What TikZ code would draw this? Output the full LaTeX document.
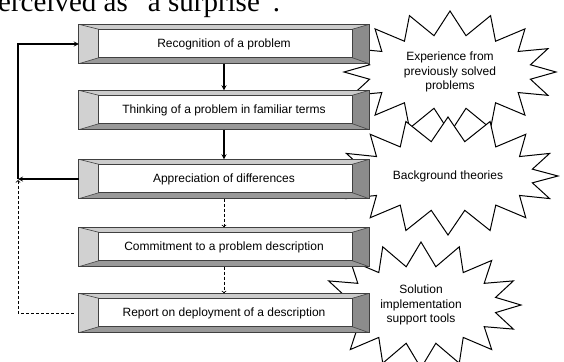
\documentclass[tikz,border=0pt]{standalone}
\usepackage{fontspec}
\setmainfont{Liberation Serif}
\setsansfont{Liberation Sans}
\usetikzlibrary{shapes.symbols}

\definecolor{bevlight}{gray}{0.82}
\definecolor{bevtop}{gray}{0.8}
\definecolor{bevbottom}{gray}{0.6}
\definecolor{bevdark}{gray}{0.55}
\definecolor{edge}{gray}{0.25}

\tikzset{
  stage/.style={fill=white, minimum width=290pt, minimum height=39pt, inner sep=0pt,
    font=\sffamily\fontsize{12}{14}\selectfont},
  burst/.style={starburst, draw, fill=white, line width=1pt, starburst points=16,
    starburst point height=24pt, random starburst=0, align=center, inner sep=0pt,
    font=\sffamily\fontsize{12}{14.5}\selectfont},
  flow/.style={->, >=stealth, line width=1.2pt},
  weak/.style={->, dash pattern=on 3pt off 2pt, line width=0.8pt}
}

\begin{document}
\begin{tikzpicture}[x=1pt,y=-1pt]
        \useasboundingbox (0,0) rectangle (564,361);

        % Cut-off line of the page text
        \node[anchor=base west, inner sep=0pt, font=\fontsize{29}{29}\selectfont] (head) at (-2,11.5) {erceived as ``a surprise''.};

        % Bursts behind the stages
        \node[burst, minimum width=212pt, minimum height=122pt, shape border rotate=6] (exp) at (450,72) {Experience from\\previously solved\\problems};
        \node[burst, minimum width=220pt, minimum height=118pt, shape border rotate=-4] (theory) at (448,176) {Background theories};
        \node[burst, minimum width=200pt, minimum height=126pt, shape border rotate=8] (tools) at (421,305) {Solution\\implementation\\support tools};

        % Stages
        \node[stage] (s1) at (224,44) {Recognition of a problem};
        \node[stage] (s2) at (224,110) {Thinking of a problem in familiar terms};
        \node[stage] (s3) at (224,179) {Appreciation of differences};
        \node[stage] (s4) at (224,247) {Commitment to a problem description};
        \node[stage] (s5) at (224,313) {Report on deployment of a description};

        % Bevelled frames
        \foreach \n in {s1,s2,s3,s4,s5}{
            \fill[bevtop] (\n.north west) -- (\n.north east) -- ([shift={(-17,5)}]\n.north east) -- ([shift={(20,5)}]\n.north west) -- cycle;
            \fill[bevbottom] (\n.south west) -- (\n.south east) -- ([shift={(-17,-6)}]\n.south east) -- ([shift={(20,-6)}]\n.south west) -- cycle;
            \fill[bevlight] (\n.north west) -- ([shift={(20,5)}]\n.north west) -- ([shift={(20,-6)}]\n.south west) -- (\n.south west) -- cycle;
            \fill[bevdark] (\n.north east) -- ([shift={(-17,5)}]\n.north east) -- ([shift={(-17,-6)}]\n.south east) -- (\n.south east) -- cycle;
            \draw[edge,line width=0.6pt] (\n.north west) -- ([shift={(20,5)}]\n.north west)
                (\n.north east) -- ([shift={(-17,5)}]\n.north east)
                (\n.south west) -- ([shift={(20,-6)}]\n.south west)
                (\n.south east) -- ([shift={(-17,-6)}]\n.south east);
            \draw[edge,line width=0.9pt] ([shift={(20,5)}]\n.north west) rectangle ([shift={(-17,-6)}]\n.south east);
            \draw[edge,line width=1pt] (\n.north west) rectangle (\n.south east);
        }

        % Main flow
        \draw[flow] (s1) -- (s2);
        \draw[flow] (s2) -- (s3);
        \draw[weak] (s3) -- (s4);
        \draw[weak] (s4) -- (s5);

        % Feedback loops
        \coordinate (fb) at (18,179);
        \draw[flow] (s3.west) -- (fb);
        \draw[flow] (fb) |- (s1.west);
        \draw[weak, shorten <=5pt, shorten >=1pt] (s5.west) -| (fb);
    \end{tikzpicture}
\end{document}
